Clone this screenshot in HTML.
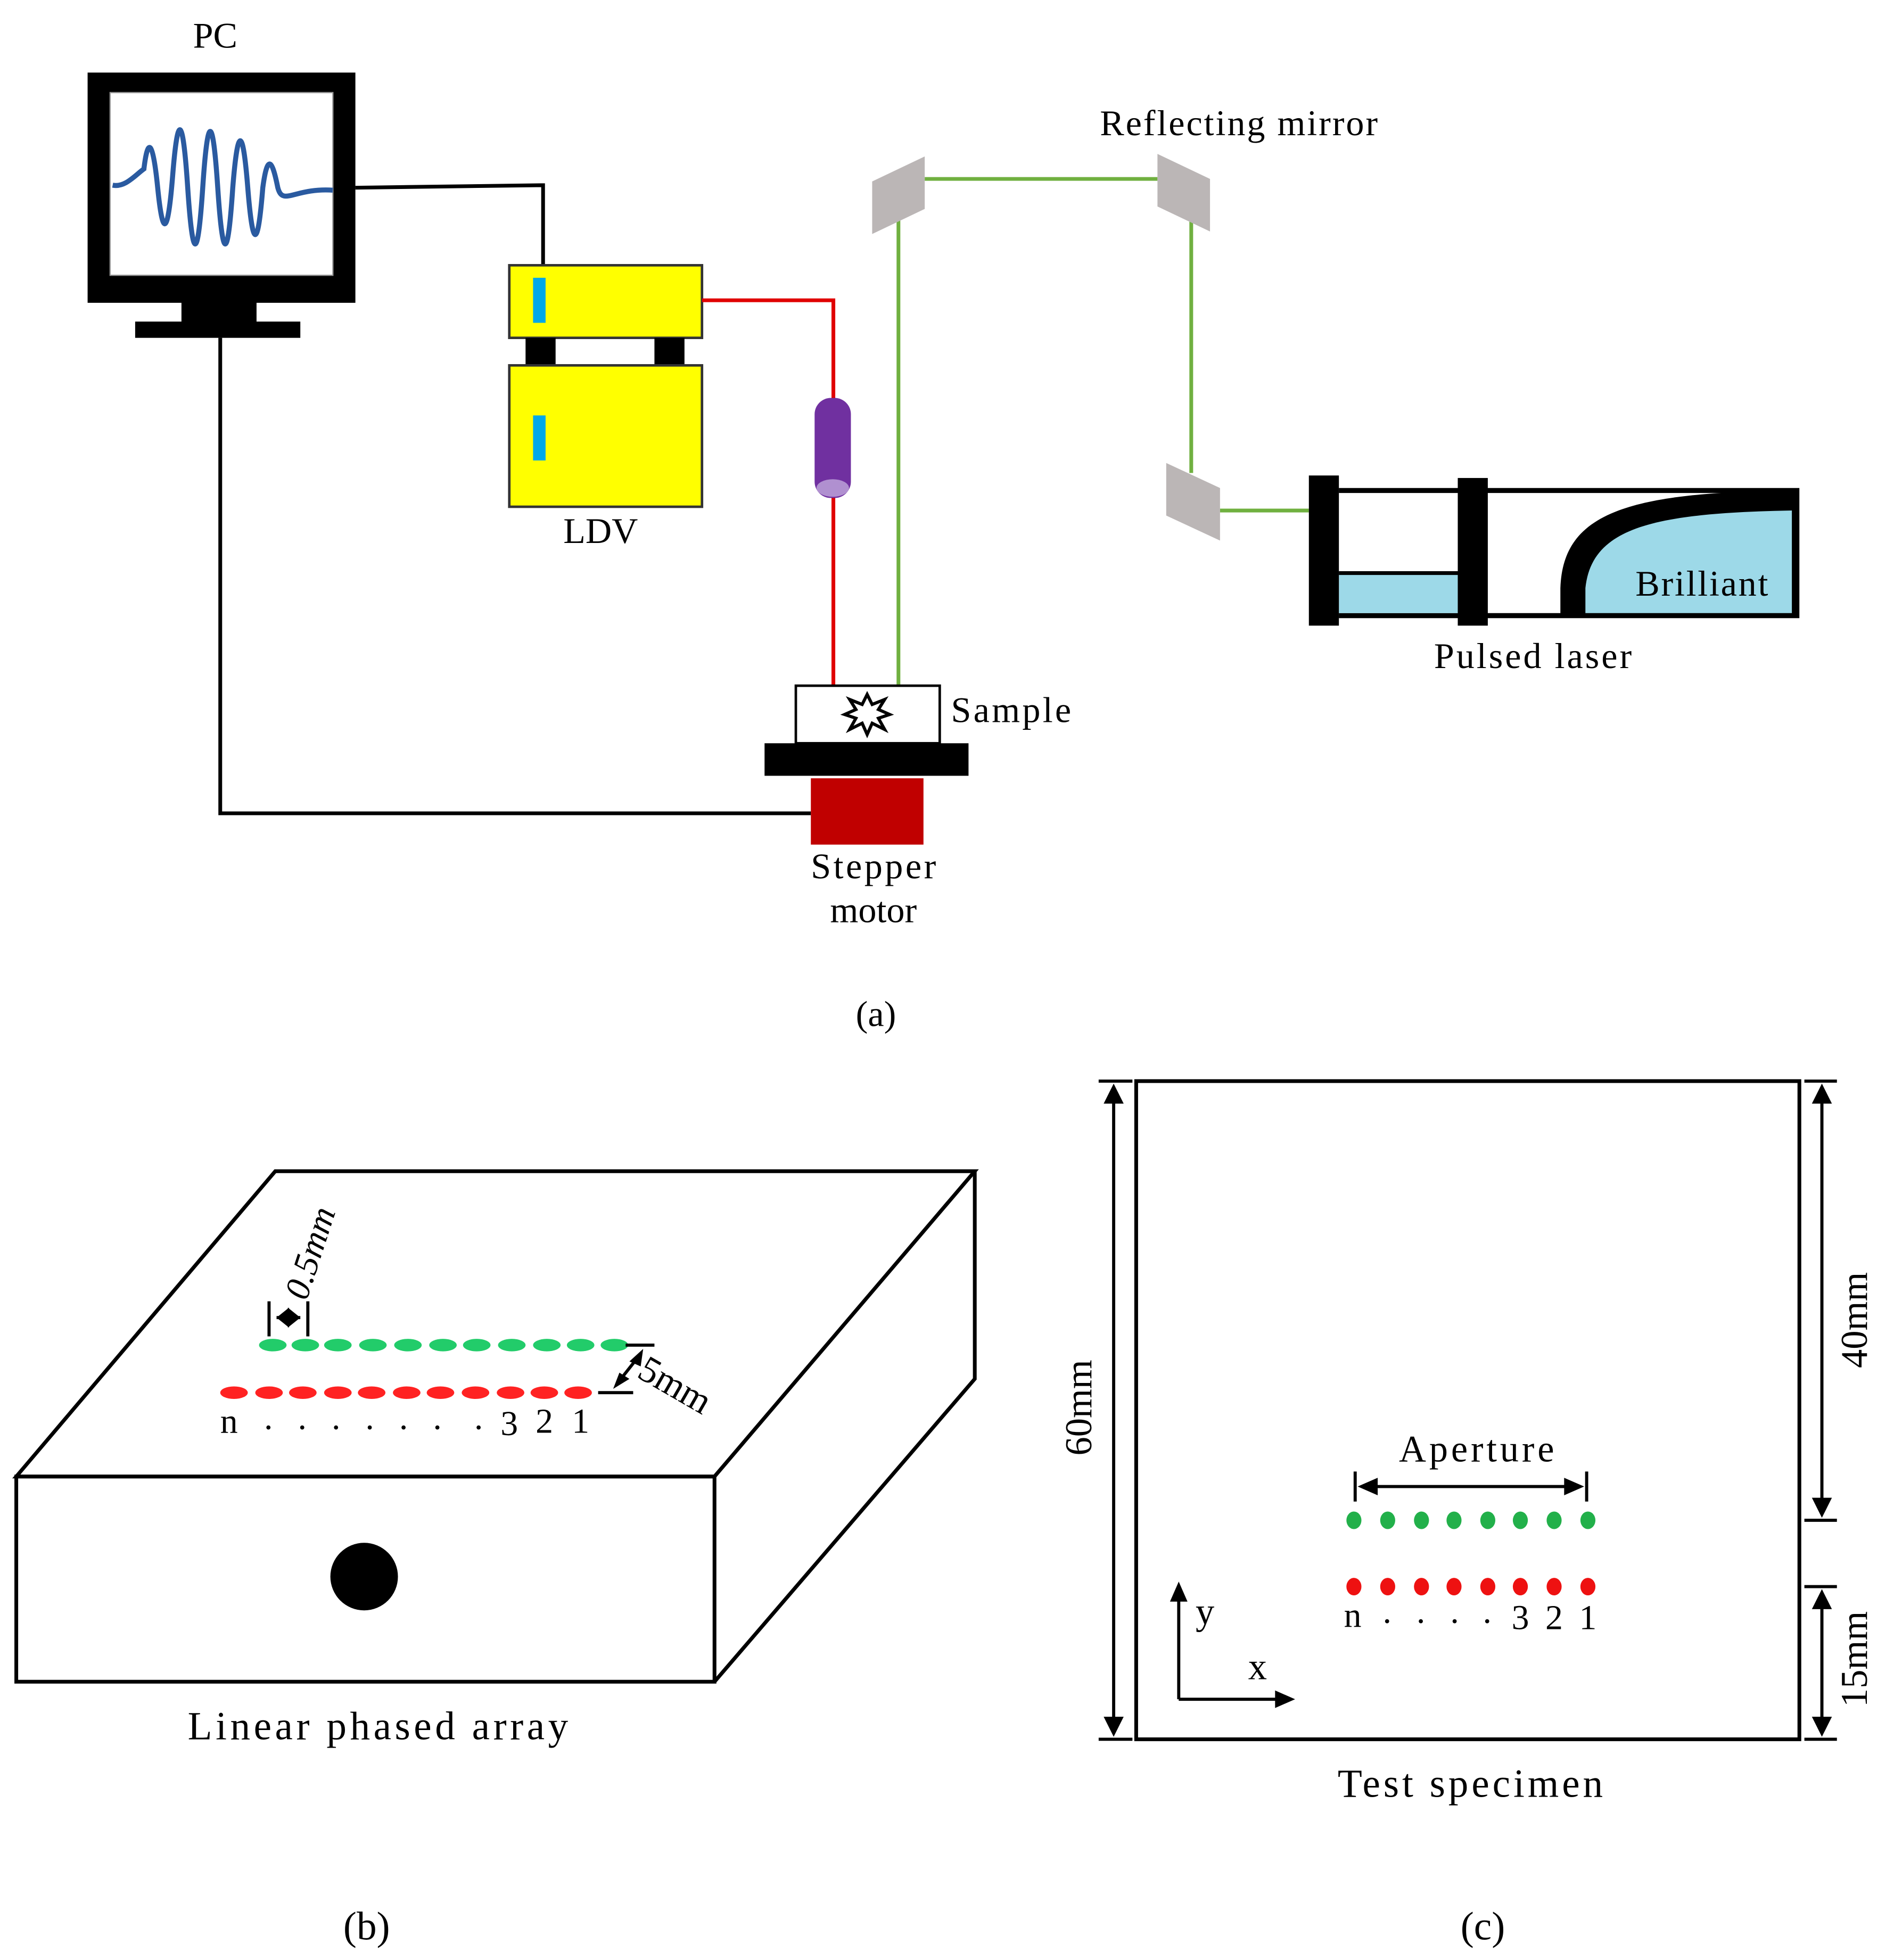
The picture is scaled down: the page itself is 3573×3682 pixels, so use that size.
<!DOCTYPE html>
<html><head><meta charset="utf-8"><style>html,body{margin:0;padding:0;background:#fff}svg{display:block}</style></head>
<body>
<svg width="3573" height="3682" viewBox="0 0 1520 1566.4" xmlns="http://www.w3.org/2000/svg" font-family="'Liberation Serif', serif" font-size="29">
<rect width="1520" height="1567" fill="#fff"/>
<!-- PC -->
<text x="172" y="38" text-anchor="middle">PC</text>
<rect x="70" y="58" width="214" height="184" fill="#000"/>
<rect x="88" y="74" width="178" height="146" fill="#fff" stroke="#999" stroke-width="1"/>
<path d="M90,148 C100,150 108,140 115,135 C118,110 122,110 126,150 C130,190 134,190 138,140 C142,90 146,90 150,150 C154,210 158,210 162,150 C166,90 170,90 174,150 C178,210 182,210 186,150 C190,100 194,100 198,150 C202,200 206,200 210,150 C214,120 218,130 222,150 C226,165 235,150 266,152" fill="none" stroke="#2a5aa0" stroke-width="4"/>
<rect x="145" y="240" width="60" height="18" fill="#000"/>
<rect x="108" y="257" width="132" height="13" fill="#000"/>
<polyline points="284,150 434,148 434,212" fill="none" stroke="#000" stroke-width="3"/>
<polyline points="176,270 176,650 648,650" fill="none" stroke="#000" stroke-width="3"/>
<!-- LDV -->
<rect x="407" y="212" width="154" height="58" fill="#ffff00" stroke="#333" stroke-width="2"/>
<rect x="420" y="270" width="24" height="22" fill="#000"/>
<rect x="523" y="270" width="24" height="22" fill="#000"/>
<rect x="407" y="292" width="154" height="113" fill="#ffff00" stroke="#333" stroke-width="2"/>
<rect x="426" y="222" width="10" height="36" fill="#00a8e8"/>
<rect x="426" y="332" width="10" height="36" fill="#00a8e8"/>
<text x="480" y="434" text-anchor="middle">LDV</text>
<!-- red beam -->
<polyline points="561,240 666,240 666,320" fill="none" stroke="#e00000" stroke-width="3"/>
<line x1="666" y1="396" x2="666" y2="548" stroke="#e00000" stroke-width="3"/>
<rect x="651" y="318" width="29" height="80" rx="13" fill="#7030a0"/>
<ellipse cx="665.5" cy="390" rx="13" ry="7" fill="#b090d0"/>
<!-- green beam -->
<polyline points="718,548 718,165" fill="none" stroke="#70b040" stroke-width="3"/>
<line x1="739" y1="143" x2="925" y2="143" stroke="#70b040" stroke-width="3"/>
<line x1="952" y1="175" x2="952" y2="378" stroke="#70b040" stroke-width="3"/>
<line x1="975" y1="408" x2="1046" y2="408" stroke="#70b040" stroke-width="3"/>
<polygon points="697,145 739,125 739,167 697,187" fill="#bbb6b6"/>
<polygon points="925,123 967,143 967,185 925,165" fill="#bbb6b6"/>
<polygon points="932,370 975,390 975,432 932,412" fill="#bbb6b6"/>
<text x="990" y="108" text-anchor="middle" textLength="222">Reflecting mirror</text>
<!-- laser -->
<polyline points="1070,392 1436,392 1436,492 1070,492" fill="none" stroke="#000" stroke-width="4"/>
<rect x="1070" y="458" width="95" height="32" fill="#9dd9e8"/>
<line x1="1070" y1="458" x2="1165" y2="458" stroke="#000" stroke-width="3"/>
<path d="M1247,492 L1247,470 C1249,410 1300,393 1436,392 L1436,492 Z" fill="#000"/>
<path d="M1267,490 L1267,470 C1272,422 1320,410 1432,408 L1432,490 Z" fill="#9dd9e8"/>
<rect x="1046" y="380" width="24" height="120" fill="#000"/>
<rect x="1165" y="382" width="24" height="118" fill="#000"/>
<text x="1360" y="476" text-anchor="middle" textLength="106">Brilliant</text>
<text x="1225" y="534" text-anchor="middle" textLength="158">Pulsed laser</text>
<!-- sample -->
<rect x="636" y="548" width="115" height="46" fill="#fff" stroke="#000" stroke-width="2"/>
<polygon points="693,555 697,563 707,559 702,567 711,571 702,574 707,583 697,578 693,587 689,578 679,583 684,574 675,571 684,567 679,559 689,563" fill="#fff" stroke="#000" stroke-width="2.5"/>
<text x="808" y="577" text-anchor="middle" textLength="96">Sample</text>
<rect x="611" y="594" width="163" height="26" fill="#000"/>
<rect x="648" y="622" width="90" height="53" fill="#c00000"/>
<text x="698" y="702" text-anchor="middle" textLength="100">Stepper</text>
<text x="698" y="737" text-anchor="middle">motor</text>
<text x="700" y="820" text-anchor="middle">(a)</text>
<!-- (b) -->
<g fill="none" stroke="#000" stroke-width="3">
<polygon points="13,1180 220,936 779,936 571,1180"/>
<rect x="13" y="1180" width="558" height="164"/>
<polyline points="779,936 779,1102 571,1344"/>
</g>
<circle cx="291" cy="1260" r="27" fill="#000"/>
<g fill="#22cc6a">
<ellipse cx="218" cy="1075" rx="11" ry="5"/><ellipse cx="244" cy="1075" rx="11" ry="5"/><ellipse cx="270" cy="1075" rx="11" ry="5"/><ellipse cx="298" cy="1075" rx="11" ry="5"/><ellipse cx="326" cy="1075" rx="11" ry="5"/><ellipse cx="354" cy="1075" rx="11" ry="5"/><ellipse cx="381" cy="1075" rx="11" ry="5"/><ellipse cx="409" cy="1075" rx="11" ry="5"/><ellipse cx="437" cy="1075" rx="11" ry="5"/><ellipse cx="464" cy="1075" rx="11" ry="5"/><ellipse cx="491" cy="1075" rx="11" ry="5"/>
</g>
<g fill="#ff2222">
<ellipse cx="187" cy="1113" rx="11" ry="5"/><ellipse cx="215" cy="1113" rx="11" ry="5"/><ellipse cx="242" cy="1113" rx="11" ry="5"/><ellipse cx="270" cy="1113" rx="11" ry="5"/><ellipse cx="297" cy="1113" rx="11" ry="5"/><ellipse cx="325" cy="1113" rx="11" ry="5"/><ellipse cx="352" cy="1113" rx="11" ry="5"/><ellipse cx="380" cy="1113" rx="11" ry="5"/><ellipse cx="408" cy="1113" rx="11" ry="5"/><ellipse cx="435" cy="1113" rx="11" ry="5"/><ellipse cx="462" cy="1113" rx="11" ry="5"/>
</g>
<g stroke="#000" stroke-width="2.5">
<line x1="215" y1="1040" x2="215" y2="1068"/><line x1="246" y1="1040" x2="246" y2="1068"/>
<line x1="221" y1="1053" x2="240" y2="1053"/>
<line x1="500" y1="1075" x2="523" y2="1075"/>
<line x1="478" y1="1113" x2="506" y2="1113"/>
<line x1="512" y1="1082" x2="493" y2="1106"/>
</g>
<polygon points="221,1053 231,1045 231,1061" fill="#000"/><polygon points="240,1053 230,1045 230,1061" fill="#000"/>
<polygon points="514,1078 503,1088 512,1092" fill="#000"/><polygon points="490,1110 495,1097 503,1102" fill="#000"/>
<text x="0" y="0" font-style="italic" font-size="28" transform="translate(245,1040) rotate(-72)">0.5mm</text>
<text x="0" y="0" font-size="30" transform="translate(508,1100) rotate(30)">5mm</text>
<g font-size="28">
<text x="176" y="1145">n</text>
<text x="211" y="1142">.</text><text x="238" y="1142">.</text><text x="265" y="1142">.</text><text x="292" y="1142">.</text><text x="319" y="1142">.</text><text x="346" y="1142">.</text><text x="379" y="1142">.</text>
<text x="400" y="1147">3</text><text x="428" y="1145">2</text><text x="457" y="1145">1</text>
</g>
<text x="302" y="1390" text-anchor="middle" font-size="32" textLength="304">Linear phased array</text>
<text x="293" y="1550" text-anchor="middle" font-size="32">(b)</text>
<!-- (c) -->
<rect x="908" y="864" width="530" height="526" fill="none" stroke="#000" stroke-width="3"/>
<g stroke="#000" stroke-width="2.5">
<line x1="878" y1="864" x2="905" y2="864"/><line x1="878" y1="1390" x2="905" y2="1390"/>
<line x1="890" y1="870" x2="890" y2="1384"/>
<line x1="1442" y1="864" x2="1468" y2="864"/><line x1="1442" y1="1215" x2="1468" y2="1215"/>
<line x1="1442" y1="1268" x2="1468" y2="1268"/><line x1="1442" y1="1390" x2="1468" y2="1390"/>
<line x1="1456" y1="870" x2="1456" y2="1209"/><line x1="1456" y1="1274" x2="1456" y2="1384"/>
<line x1="1083" y1="1176" x2="1083" y2="1200"/><line x1="1268" y1="1176" x2="1268" y2="1200"/>
<line x1="1088" y1="1188" x2="1263" y2="1188"/>
<line x1="942" y1="1358" x2="942" y2="1275"/><line x1="942" y1="1358" x2="1026" y2="1358"/>
</g>
<g fill="#000">
<polygon points="890,866 882,882 898,882"/><polygon points="890,1388 882,1372 898,1372"/>
<polygon points="1456,866 1448,882 1464,882"/><polygon points="1456,1213 1448,1197 1464,1197"/>
<polygon points="1456,1270 1448,1286 1464,1286"/><polygon points="1456,1388 1448,1372 1464,1372"/>
<polygon points="1085,1188 1101,1181 1101,1195"/><polygon points="1266,1188 1250,1181 1250,1195"/>
<polygon points="942,1264 935,1280 949,1280"/><polygon points="1035,1358 1019,1351 1019,1365"/>
</g>
<g fill="#22b04a">
<ellipse cx="1082" cy="1215" rx="6" ry="7"/><ellipse cx="1109" cy="1215" rx="6" ry="7"/><ellipse cx="1136" cy="1215" rx="6" ry="7"/><ellipse cx="1162" cy="1215" rx="6" ry="7"/><ellipse cx="1189" cy="1215" rx="6" ry="7"/><ellipse cx="1215" cy="1215" rx="6" ry="7"/><ellipse cx="1242" cy="1215" rx="6" ry="7"/><ellipse cx="1269" cy="1215" rx="6" ry="7"/>
</g>
<g fill="#ee1111">
<ellipse cx="1082" cy="1268" rx="6" ry="7"/><ellipse cx="1109" cy="1268" rx="6" ry="7"/><ellipse cx="1136" cy="1268" rx="6" ry="7"/><ellipse cx="1162" cy="1268" rx="6" ry="7"/><ellipse cx="1189" cy="1268" rx="6" ry="7"/><ellipse cx="1215" cy="1268" rx="6" ry="7"/><ellipse cx="1242" cy="1268" rx="6" ry="7"/><ellipse cx="1269" cy="1268" rx="6" ry="7"/>
</g>
<text x="1180" y="1168" text-anchor="middle" font-size="30" textLength="124">Aperture</text>
<g font-size="28">
<text x="1074" y="1300">n</text>
<text x="1105" y="1297">.</text><text x="1132" y="1297">.</text><text x="1159" y="1297">.</text><text x="1185" y="1297">.</text>
<text x="1208" y="1302">3</text><text x="1235" y="1302">2</text><text x="1262" y="1302">1</text>
</g>
<text x="963" y="1298" text-anchor="middle" font-size="30">y</text>
<text x="1005" y="1342" text-anchor="middle" font-size="30">x</text>
<text x="0" y="0" text-anchor="middle" font-size="30" transform="translate(872,1125) rotate(-90)">60mm</text>
<text x="0" y="0" text-anchor="middle" font-size="30" transform="translate(1492,1055) rotate(-90)">40mm</text>
<text x="0" y="0" text-anchor="middle" font-size="30" transform="translate(1492,1326) rotate(-90)">15mm</text>
<text x="1175" y="1436" text-anchor="middle" font-size="32" textLength="212">Test specimen</text>
<text x="1185" y="1550" text-anchor="middle" font-size="32">(c)</text>
</svg>
</body></html>
